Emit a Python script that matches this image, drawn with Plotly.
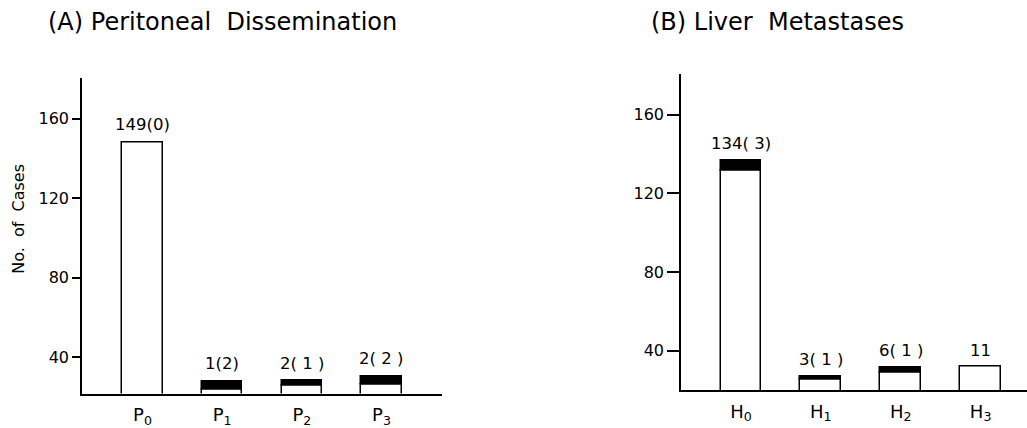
import plotly.graph_objects as go

W, H = 1027, 428

# ---- data ----
cats_A = ["P<sub>0</sub>", "P<sub>1</sub>", "P<sub>2</sub>", "P<sub>3</sub>"]
labels_A = ["149(0)", "1(2)", "2( 1 )", "2( 2 )"]
white_top_A = [148.1, 23.8, 25.5, 26.3]   # top of open part of bar
black_top_A = [148.1, 27.8, 28.0, 30.4]   # top of filled part of bar

cats_B = ["H<sub>0</sub>", "H<sub>1</sub>", "H<sub>2</sub>", "H<sub>3</sub>"]
labels_B = ["134( 3)", "3( 1 )", "6( 1 )", "11"]
white_top_B = [131.8, 25.4, 28.7, 31.9]
black_top_B = [136.9, 27.1, 31.6, 31.9]

yticks = [40, 80, 120, 160]
yrange_A = [21.7, 180.7]
yrange_B = [19.9, 180.9]

FONT = "DejaVu Sans, Liberation Sans, sans-serif"

def px(x):
    return x / W

def py(y):
    return 1 - y / H

fig = go.Figure()

def add_panel(cats, white_top, black_top, xa, ya):
    fig.add_trace(go.Bar(
        x=cats, y=white_top, base=[0] * len(cats),
        marker=dict(color="white", line=dict(color="black", width=1.5)),
        width=0.51, xaxis=xa, yaxis=ya, showlegend=False, hoverinfo="skip"))
    bx, by, bb = [], [], []
    for c, w, b in zip(cats, white_top, black_top):
        if b - w > 0.05:
            bx.append(c); by.append(b - w); bb.append(w)
    fig.add_trace(go.Bar(
        x=bx, y=by, base=bb,
        marker=dict(color="black", line=dict(color="black", width=1.5)),
        width=0.51, xaxis=xa, yaxis=ya, showlegend=False, hoverinfo="skip"))

add_panel(cats_A, white_top_A, black_top_A, "x", "y")
add_panel(cats_B, white_top_B, black_top_B, "x2", "y2")

LABEL_FONT = dict(family=FONT, size=16.5, color="black")
annotations = []
for c, t, lab in zip(cats_A, black_top_A, labels_A):
    annotations.append(dict(x=c, y=t, xref="x", yref="y", text=lab, showarrow=False,
                            yanchor="bottom", yshift=6, font=LABEL_FONT))
for c, t, lab in zip(cats_B, black_top_B, labels_B):
    annotations.append(dict(x=c, y=t, xref="x2", yref="y2", text=lab, showarrow=False,
                            yanchor="bottom", yshift=5, font=LABEL_FONT))

annotations += [
    dict(x=px(46), y=py(22), xref="paper", yref="paper", xanchor="left", yanchor="middle",
         text="(A) Peritoneal  Dissemination", showarrow=False,
         font=dict(family=FONT, size=24, color="black")),
    dict(x=px(649), y=py(22), xref="paper", yref="paper", xanchor="left", yanchor="middle",
         text="(B) Liver  Metastases", showarrow=False,
         font=dict(family=FONT, size=24, color="black")),
    dict(x=px(19), y=py(223), xref="paper", yref="paper", xanchor="center", yanchor="middle",
         text="No.  of  Cases", textangle=-90, showarrow=False,
         font=dict(family=FONT, size=16, color="black")),
]

axis_common = dict(showline=True, linecolor="black", linewidth=1.5, showgrid=False,
                   zeroline=False, mirror=False)

fig.update_layout(
    width=W, height=H, margin=dict(l=0, r=0, t=0, b=0),
    paper_bgcolor="white", plot_bgcolor="white",
    barmode="overlay", bargap=0,
    font=dict(family=FONT, color="black"),
    annotations=annotations,
    xaxis=dict(domain=[px(82), px(442)], range=[-0.76, 3.76], anchor="y",
               ticks="", tickfont=dict(size=18), ticklabelstandoff=4, **axis_common),
    yaxis=dict(domain=[py(401), py(79)], range=yrange_A, anchor="x",
               tickvals=yticks, ticks="outside", ticklen=8, tickwidth=1.5,
               tickcolor="black", tickfont=dict(size=16), **axis_common),
    xaxis2=dict(domain=[px(681), 1.0], range=[-0.75, 3.58], anchor="y2",
                ticks="", tickfont=dict(size=18), ticklabelstandoff=4, **axis_common),
    yaxis2=dict(domain=[py(397.7), py(75)], range=yrange_B, anchor="x2",
                tickvals=yticks, ticks="outside", ticklen=12, tickwidth=1.5,
                tickcolor="black", tickfont=dict(size=16), **axis_common),
)

fig.write_html("out.html", config={"displayModeBar": False},
               post_script="document.body.style.margin='0';")
